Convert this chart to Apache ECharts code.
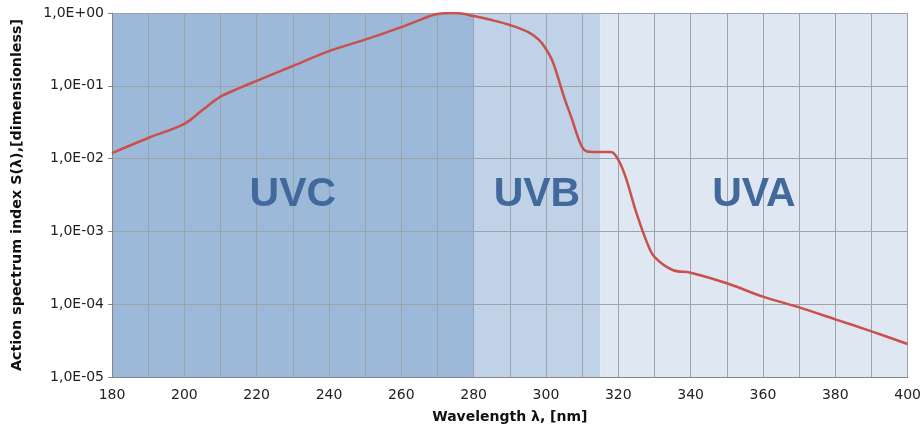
<!DOCTYPE html>
<html>
<head>
<meta charset="utf-8">
<script src="https://cdn.jsdelivr.net/npm/echarts@6/dist/echarts.min.js"></script>
<style>html,body{margin:0;padding:0;background:#fff}#c{width:924px;height:431px}</style>
</head>
<body>
<div id="c"></div>
<script>
var wavelengths = [180,190,200,205,210,215,220,230,240,250,260,265,270,275,280,285,290,295,298,300,302,305,307,310,312,315,318,320,322,325,328,330,335,340,350,360,370,380,390,400];
var sValues = [0.0119,0.0192,0.030,0.0465,0.071,0.092,0.117,0.187,0.30,0.43,0.64,0.80,0.97,1.0,0.91,0.80,0.685,0.55,0.43,0.32,0.206,0.070,0.037,0.0144,0.0124,0.0123,0.0123,0.0096,0.0056,0.0018,0.00069,0.000446,0.000295,0.000271,0.000194,0.000127,0.0000906,0.000062,0.0000424,0.0000284];
var bandNames = ['UVC','UVB','UVA'];
var bandStarts = [180,280,315];
var bandEnds = [280,315,400];
var bandColors = ['#9DB9DA','#BFD2E8','#DFE7F2'];
var yTickLabels = ['1,0E-05','1,0E-04','1,0E-03','1,0E-02','1,0E-01','1,0E+00'];
var xTickLabels = ['180','200','220','240','260','280','300','320','340','360','380','400'];

var chart = echarts.init(document.getElementById('c'), null, {renderer:'canvas'});
var lineData = wavelengths.map(function(w,i){return [w, sValues[i]];});
var fillAreas = bandNames.map(function(n,i){
  return [{xAxis: bandStarts[i], itemStyle:{color: bandColors[i]}}, {xAxis: bandEnds[i]}];
});
var labelAreas = bandNames.map(function(n,i){
  return [{name: n, xAxis: bandStarts[i]}, {xAxis: bandEnds[i]}];
});
var font = 'DejaVu Sans, Verdana, sans-serif';
chart.setOption({
  animation: false,
  grid: {left: 112, right: 13, top: 13, bottom: 54},
  xAxis: {
    type: 'value', min: 180, max: 400, interval: 10, z: 1.5,
    axisLine: {show: true, lineStyle: {color: '#868686', width: 1}},
    axisTick: {show: false},
    axisLabel: {margin: 11, color: '#222', fontFamily: font, fontSize: 14,
      formatter: function(v){ var s = String(v); return xTickLabels.indexOf(s) >= 0 ? s : ''; }},
    splitLine: {show: true, lineStyle: {color: '#9DA3AB', width: 1}},
    name: 'Wavelength λ, [nm]', nameLocation: 'middle', nameGap: 33,
    nameTextStyle: {fontFamily: font, fontWeight: 'bold', fontSize: 14, color: '#111'}
  },
  yAxis: {
    type: 'log', logBase: 10, min: 1e-5, max: 1, z: 1.5,
    axisLine: {show: true, lineStyle: {color: '#868686', width: 1}},
    axisTick: {show: true, length: 4, lineStyle: {color: '#868686'}},
    axisLabel: {margin: 8, color: '#222', fontFamily: font, fontSize: 14,
      formatter: function(v){ var e = Math.round(Math.log10(v)); return yTickLabels[e + 5]; }},
    splitLine: {show: true, lineStyle: {color: '#9DA3AB', width: 1}},
    name: 'Action spectrum index S(λ),[dimensionless]', nameLocation: 'middle', nameGap: 88,
    nameTextStyle: {fontFamily: font, fontWeight: 'bold', fontSize: 14.3, color: '#111'}
  },
  series: [
    {
      type: 'line', data: [], z: 1, silent: true,
      markArea: {z: 1, silent: true, label: {show: false}, data: fillAreas}
    },
    {
      type: 'line', data: lineData, z: 3, smooth: 0.35, symbol: 'none',
      lineStyle: {color: '#C9504B', width: 2.5},
      markArea: {z: 2, silent: true, itemStyle: {color: 'rgba(0,0,0,0)'},
        label: {show: true, position: 'inside', color: '#41699B', fontFamily: 'Liberation Sans, Arial, sans-serif', fontWeight: 'bold', fontSize: 41},
        data: labelAreas}
    }
  ]
});
</script>
</body>
</html>
